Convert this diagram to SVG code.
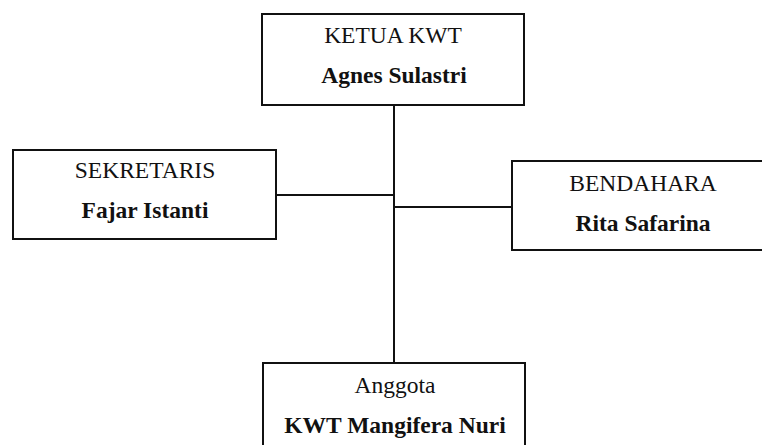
<svg xmlns="http://www.w3.org/2000/svg" width="762" height="445" viewBox="0 0 762 445">
<style>
.box{fill:#fff;stroke:#111;stroke-width:2}
.ln{stroke:#111;stroke-width:2;fill:none}
.t{font-family:"Liberation Serif","Times New Roman",serif;font-size:23.5px;fill:#111;text-anchor:middle}
.b{font-weight:bold}
</style>
<rect width="762" height="445" fill="#fff"/>
<g id="connectors">
<line class="ln" x1="394" y1="105" x2="394" y2="363"/>
<line class="ln" x1="276" y1="195" x2="394" y2="195"/>
<line class="ln" x1="394" y1="207" x2="512" y2="207"/>
</g>
<g id="ketua">
<rect class="box" x="262" y="14" width="262" height="91"/>
<text class="t" x="393" y="43">KETUA KWT</text>
<text class="t b" x="394" y="83">Agnes Sulastri</text>
</g>
<g id="sekretaris">
<rect class="box" x="13" y="150" width="263" height="89"/>
<text class="t" x="145" y="178">SEKRETARIS</text>
<text class="t b" x="145" y="218">Fajar Istanti</text>
</g>
<g id="bendahara">
<rect class="box" x="512" y="161" width="264" height="89"/>
<text class="t" x="643" y="191">BENDAHARA</text>
<text class="t b" x="643" y="231">Rita Safarina</text>
</g>
<g id="anggota">
<rect class="box" x="263" y="363" width="262" height="95"/>
<text class="t" x="395" y="393">Anggota</text>
<text class="t b" x="395" y="433">KWT Mangifera Nuri</text>
</g>
</svg>
